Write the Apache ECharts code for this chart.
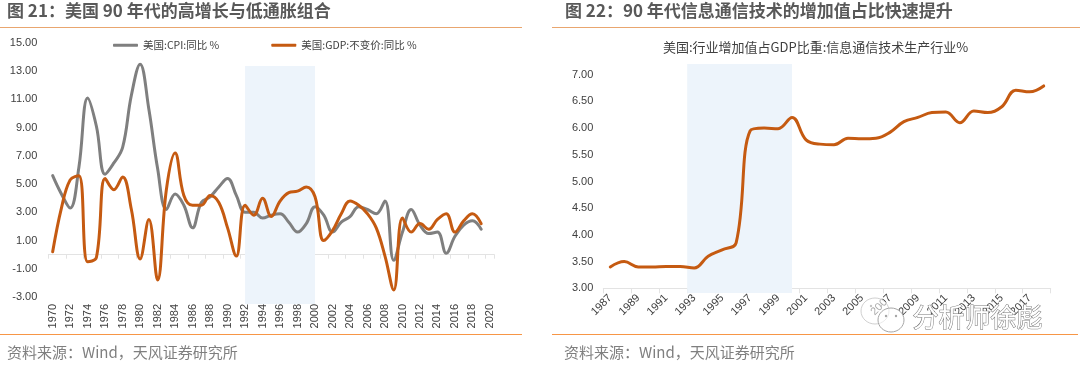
<!DOCTYPE html>
<html>
<head>
<meta charset="utf-8">
<style>
  html, body { margin: 0; padding: 0; background: #fff; }
  #chart { width: 1080px; height: 365px; }
</style>
<script src="https://cdn.jsdelivr.net/npm/echarts@6/dist/echarts.min.js"></script>
</head>
<body>
<div id="chart"></div>
<script>
const yearsLeft = ['1970','1971','1972','1973','1974','1975','1976','1977','1978','1979','1980','1981','1982','1983','1984','1985','1986','1987','1988','1989','1990','1991','1992','1993','1994','1995','1996','1997','1998','1999','2000','2001','2002','2003','2004','2005','2006','2007','2008','2009','2010','2011','2012','2013','2014','2015','2016','2017','2018','2019','2020']
const cpiValues = [5.6,4.3,3.3,6.2,11.1,9.1,5.7,6.5,7.6,11.3,13.5,10.3,6.1,3.2,4.3,3.5,1.9,3.7,4.1,4.8,5.4,4.2,3.0,3.0,2.6,2.8,2.9,2.3,1.6,2.2,3.4,2.8,1.6,2.3,2.7,3.4,3.2,2.9,3.8,-0.4,1.6,3.2,2.1,1.5,1.6,0.1,1.3,2.1,2.4,1.8,null]
const gdpValues = [0.2,3.3,5.3,5.6,-0.5,-0.2,5.4,4.6,5.5,3.2,-0.3,2.5,-1.8,4.6,7.2,4.2,3.5,3.5,4.2,3.7,1.9,-0.1,3.5,2.8,4.0,2.7,3.8,4.4,4.5,4.8,4.1,1.0,1.7,2.9,3.8,3.5,2.9,1.9,-0.1,-2.5,2.6,1.6,2.2,1.8,2.5,2.9,1.6,2.4,2.9,2.2,null]

const yearsRight = ['1987','1988','1989','1990','1991','1992','1993','1994','1995','1996','1997','1998','1999','2000','2001','2002','2003','2004','2005','2006','2007','2008','2009','2010','2011','2012','2013','2014','2015','2016','2017','2018']
const ictShare = [3.4,3.5,3.4,3.4,3.41,3.41,3.38,3.6,3.72,3.85,5.95,6.0,5.99,6.2,5.78,5.7,5.69,5.81,5.8,5.81,5.92,6.12,6.2,6.29,6.3,6.1,6.32,6.29,6.4,6.71,6.68,6.79]

const shadeLeft = [1992, 2000]
const shadeRight = [1992.5, 2000]

const cpiName = '美国:CPI:同比 %'
const gdpName = '美国:GDP:不变价:同比 %'

const GRAY = '#7f7f7f'
const ORANGE = '#c55a11'
const SHADE = '#edf4fb'
const AXIS = '#e3e3e3'
const LABEL = '#404040'
const FONT = '"Liberation Sans", "Noto Sans CJK SC", sans-serif'
const CJK = '"Noto Sans CJK SC", sans-serif'

const grids = [
  { left: 48.3, width: 446, top: 43, height: 254 },
  { left: 48.3, width: 446, top: 66, height: 238 },
  { left: 603.3, width: 447.4, top: 74.7, height: 213.6 },
  { left: 603.3, width: 447.4, top: 64, height: 229 }
]

const heading = (text, left) => ({
  text, left, top: 0, padding: 0,
  textStyle: { fontFamily: CJK, fontSize: 17, fontWeight: 'bold', color: '#595959', lineHeight: 22 }
})
const source = (left) => ({
  text: '资料来源：Wind，天风证券研究所', left, top: 342, padding: 0,
  textStyle: { fontFamily: CJK, fontSize: 15, fontWeight: 'normal', color: '#7f7f7f', lineHeight: 20 }
})

const hiddenX = (gridIndex, min, max) => ({ type: 'value', gridIndex, min, max, show: false })
const hiddenY = (gridIndex) => ({ type: 'value', gridIndex, min: 0, max: 1, show: false })

const shadeSeries = (idx, range) => ({
  type: 'line', xAxisIndex: idx, yAxisIndex: idx, data: [], silent: true, z: 1,
  markArea: {
    silent: true,
    itemStyle: { color: SHADE },
    data: [[{ xAxis: range[0], yAxis: 0 }, { xAxis: range[1], yAxis: 1 }]]
  }
})

const lineSeries = (name, data, color, xAxisIndex, yAxisIndex) => ({
  name, type: 'line', data, xAxisIndex, yAxisIndex,
  smooth: 0.4, showSymbol: false, symbol: 'none', connectNulls: false, z: 3,
  lineStyle: { color, width: 3, cap: 'round', join: 'round' },
  itemStyle: { color }
})

const rule = (x1, x2, y, stroke) => ({
  type: 'line', shape: { x1, y1: y, x2, y2: y }, style: { stroke, lineWidth: 1 }, silent: true
})

const bubble = (cx, cy, rx, ry, stroke) => ({
  type: 'ellipse', shape: { cx, cy, rx, ry },
  style: { fill: 'rgba(255,255,255,0.55)', stroke, lineWidth: 1 }, silent: true, z: 10
})
const dot = (cx, cy, fill) => ({
  type: 'circle', shape: { cx, cy, r: 1.2 }, style: { fill }, silent: true, z: 11
})

const option = {
  animation: false,
  backgroundColor: '#fff',
  title: [
    heading('图 21：美国 90 年代的高增长与低通胀组合', 7),
    heading('图 22：90 年代信息通信技术的增加值占比快速提升', 565),
    source(7),
    source(564),
    {
      text: '美国:行业增加值占GDP比重:信息通信技术生产行业%', left: 663, top: 39, padding: 0,
      textStyle: { fontFamily: CJK, fontSize: 13, fontWeight: 'normal', color: '#404040', lineHeight: 17 }
    }
  ],
  legend: {
    data: [cpiName, gdpName],
    left: 113, top: 40, padding: 0,
    icon: 'roundRect',
    itemWidth: 25, itemHeight: 3, itemGap: 52,
    textStyle: { fontFamily: CJK, fontSize: 10.5, color: '#404040' }
  },
  grid: grids,
  xAxis: [
    {
      type: 'category', gridIndex: 0, data: yearsLeft, position: 'bottom',
      axisLine: { onZero: true, lineStyle: { color: AXIS, width: 1 } },
      axisTick: { show: true, interval: 1, length: 4, alignWithLabel: false, lineStyle: { color: AXIS } },
      axisLabel: { show: false }
    },
    hiddenX(1, 1969.5, 2020.5),
    {
      type: 'category', gridIndex: 2, data: yearsRight,
      axisLine: { lineStyle: { color: AXIS, width: 1 } },
      axisTick: { show: true, interval: 1, length: 5, lineStyle: { color: AXIS } },
      axisLabel: { interval: 1, rotate: 45, fontFamily: FONT, fontSize: 11, color: LABEL, margin: 8 }
    },
    hiddenX(3, 1986.5, 2018.5),
    {
      type: 'category', gridIndex: 0, data: yearsLeft, position: 'bottom',
      axisLine: { show: false, onZero: false },
      axisTick: { show: false },
      axisLabel: { interval: 1, rotate: 90, fontFamily: FONT, fontSize: 11, color: LABEL, margin: 7 }
    }
  ],
  yAxis: [
    {
      type: 'value', gridIndex: 0, min: -3, max: 15, interval: 2,
      splitLine: { show: false }, axisLine: { show: false }, axisTick: { show: false },
      axisLabel: { formatter: (v) => v.toFixed(2), fontFamily: FONT, fontSize: 11, color: LABEL, margin: 11 }
    },
    hiddenY(1),
    {
      type: 'value', gridIndex: 2, min: 3, max: 7, interval: 0.5,
      splitLine: { show: false }, axisLine: { show: false }, axisTick: { show: false },
      axisLabel: { formatter: (v) => v.toFixed(2), fontFamily: FONT, fontSize: 11, color: LABEL, margin: 10 }
    },
    hiddenY(3)
  ],
  series: [
    shadeSeries(1, shadeLeft),
    shadeSeries(3, shadeRight),
    lineSeries(cpiName, cpiValues, GRAY, 0, 0),
    lineSeries(gdpName, gdpValues, ORANGE, 0, 0),
    lineSeries('信息通信技术生产行业', ictShare, ORANGE, 2, 2)
  ],
  graphic: [
    rule(0, 522, 27.5, '#e9a66f'),
    rule(552, 1080, 27.5, '#e9a66f'),
    rule(0, 522, 334.5, '#f79646'),
    rule(552, 1078, 334.5, '#f79646'),
    bubble(875, 311, 14, 13, '#d0d0d0'),
    dot(871, 306, '#c4c4c4'),
    dot(881, 306, '#c4c4c4'),
    bubble(891, 320, 13, 12, '#a6a6a6'),
    dot(886, 316, '#a6a6a6'),
    dot(896, 316, '#a6a6a6'),
    {
      type: 'text', left: 912, top: 304, silent: true, z: 10,
      style: {
        text: '分析师徐彪', fontFamily: CJK, fontSize: 26,
        fill: '#fff', stroke: '#777', lineWidth: 1
      }
    }
  ]
}

const chart = echarts.init(document.getElementById('chart'), null, { renderer: 'canvas' })
chart.setOption(option)
</script>
</body>
</html>
